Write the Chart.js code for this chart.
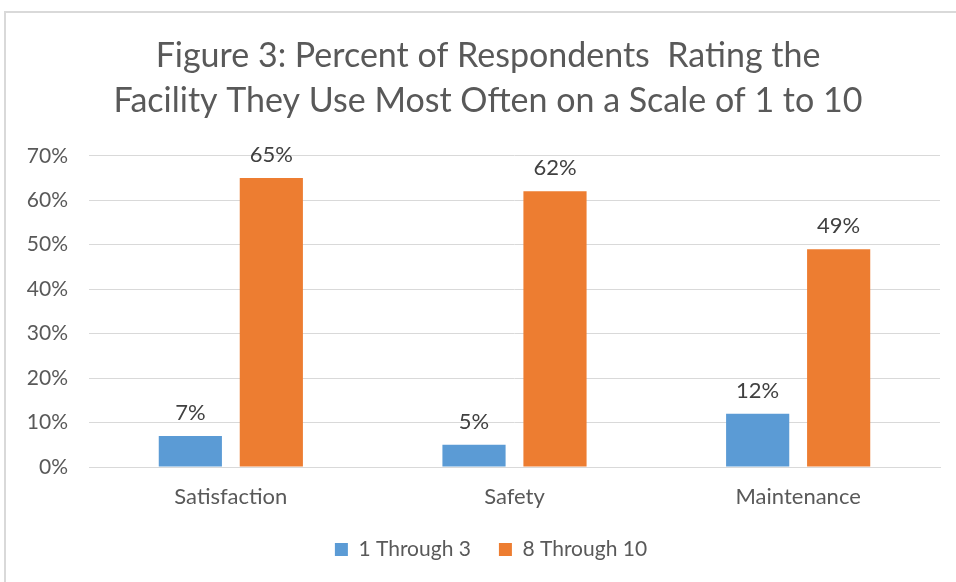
<!DOCTYPE html>
<html>
<head>
<meta charset="utf-8">
<script src="https://cdn.jsdelivr.net/npm/chart.js@4"></script>
<style>
  html, body { margin: 0; padding: 0; background: #fff; }
  #wrap { position: relative; width: 956px; height: 582px; overflow: hidden; }
  #frame { position: absolute; left: 4px; top: 11px; width: 1000px; height: 1000px; border-left: 2px solid #d9d9d9; border-top: 2px solid #d9d9d9; box-sizing: border-box; }
  canvas { position: absolute; left: 0; top: 0; }
</style>
</head>
<body>
<div id="wrap">
  <div id="frame"></div>
  <canvas id="c" width="956" height="582"></canvas>
</div>
<script>
const categories = ["Satisfaction", "Safety", "Maintenance"];
const seriesNames = ["1 Through 3", "8 Through 10"];
const low = [7, 5, 12];
const high = [65, 62, 49];
const yTicks = [0, 10, 20, 30, 40, 50, 60, 70];
const titleLines = ["Figure 3: Percent of Respondents  Rating the", "Facility They Use Most Often on a Scale of 1 to 10"];

const FONT = "Lato, 'Liberation Sans', sans-serif";

const dataLabels = {
  id: 'dataLabels',
  afterDatasetsDraw(chart) {
    const ctx = chart.ctx;
    ctx.save();
    ctx.font = "22px " + FONT;
    ctx.fillStyle = "#404040";
    ctx.textAlign = "center";
    ctx.textBaseline = "bottom";
    chart.data.datasets.forEach((ds, i) => {
      chart.getDatasetMeta(i).data.forEach((bar, j) => {
        ctx.fillText(ds.data[j] + "%", bar.x, bar.y - 12);
      });
    });
    ctx.restore();
  }
};

const shiftBlocks = {
  id: 'shiftBlocks',
  afterLayout(chart) {
    if (chart.titleBlock) { chart.titleBlock.left += 13; chart.titleBlock.right += 13; }
    if (chart.legend) { chart.legend.left += 16; chart.legend.right += 16; }
  }
};

new Chart(document.getElementById('c'), {
  type: 'bar',
  data: {
    labels: categories,
    datasets: [
      { label: seriesNames[0], data: low, backgroundColor: '#5B9BD5' },
      { label: seriesNames[1], data: high, backgroundColor: '#ED7D31' }
    ]
  },
  options: {
    responsive: false,
    animation: false,
    devicePixelRatio: 1,
    layout: { padding: { left: 10, right: 16, top: 14, bottom: 12 } },
    datasets: { bar: { barPercentage: 0.78, categoryPercentage: 0.571 } },
    plugins: {
      title: {
        display: true,
        text: titleLines,
        color: '#595959',
        font: { family: FONT, size: 34, weight: 'normal', lineHeight: 1.32 },
        padding: { top: 20, bottom: 32 }
      },
      legend: {
        position: 'bottom',
        labels: {
          color: '#595959',
          font: { family: FONT, size: 21, lineHeight: 1.0 },
          boxWidth: 13, boxHeight: 13,
          padding: 28,
          useBorderRadius: false
        }
      },
      tooltip: { enabled: false }
    },
    scales: {
      x: {
        grid: { display: false, drawTicks: false },
        border: { color: '#d9d9d9' },
        afterFit(scale) { scale.height = 44; },
        ticks: { color: '#595959', font: { family: FONT, size: 22, lineHeight: 1.0 }, padding: 19 }
      },
      y: {
        min: 0, max: 70,
        afterBuildTicks(scale) { scale.ticks = yTicks.map(v => ({ value: v })); },
        afterFit(scale) { scale.width = 79; },
        grid: { color: '#d9d9d9', drawTicks: false },
        border: { display: false },
        ticks: { color: '#595959', font: { family: FONT, size: 21 }, padding: 21, callback: v => v + '%' }
      }
    }
  },
  plugins: [dataLabels, shiftBlocks]
});
</script>
</body>
</html>
